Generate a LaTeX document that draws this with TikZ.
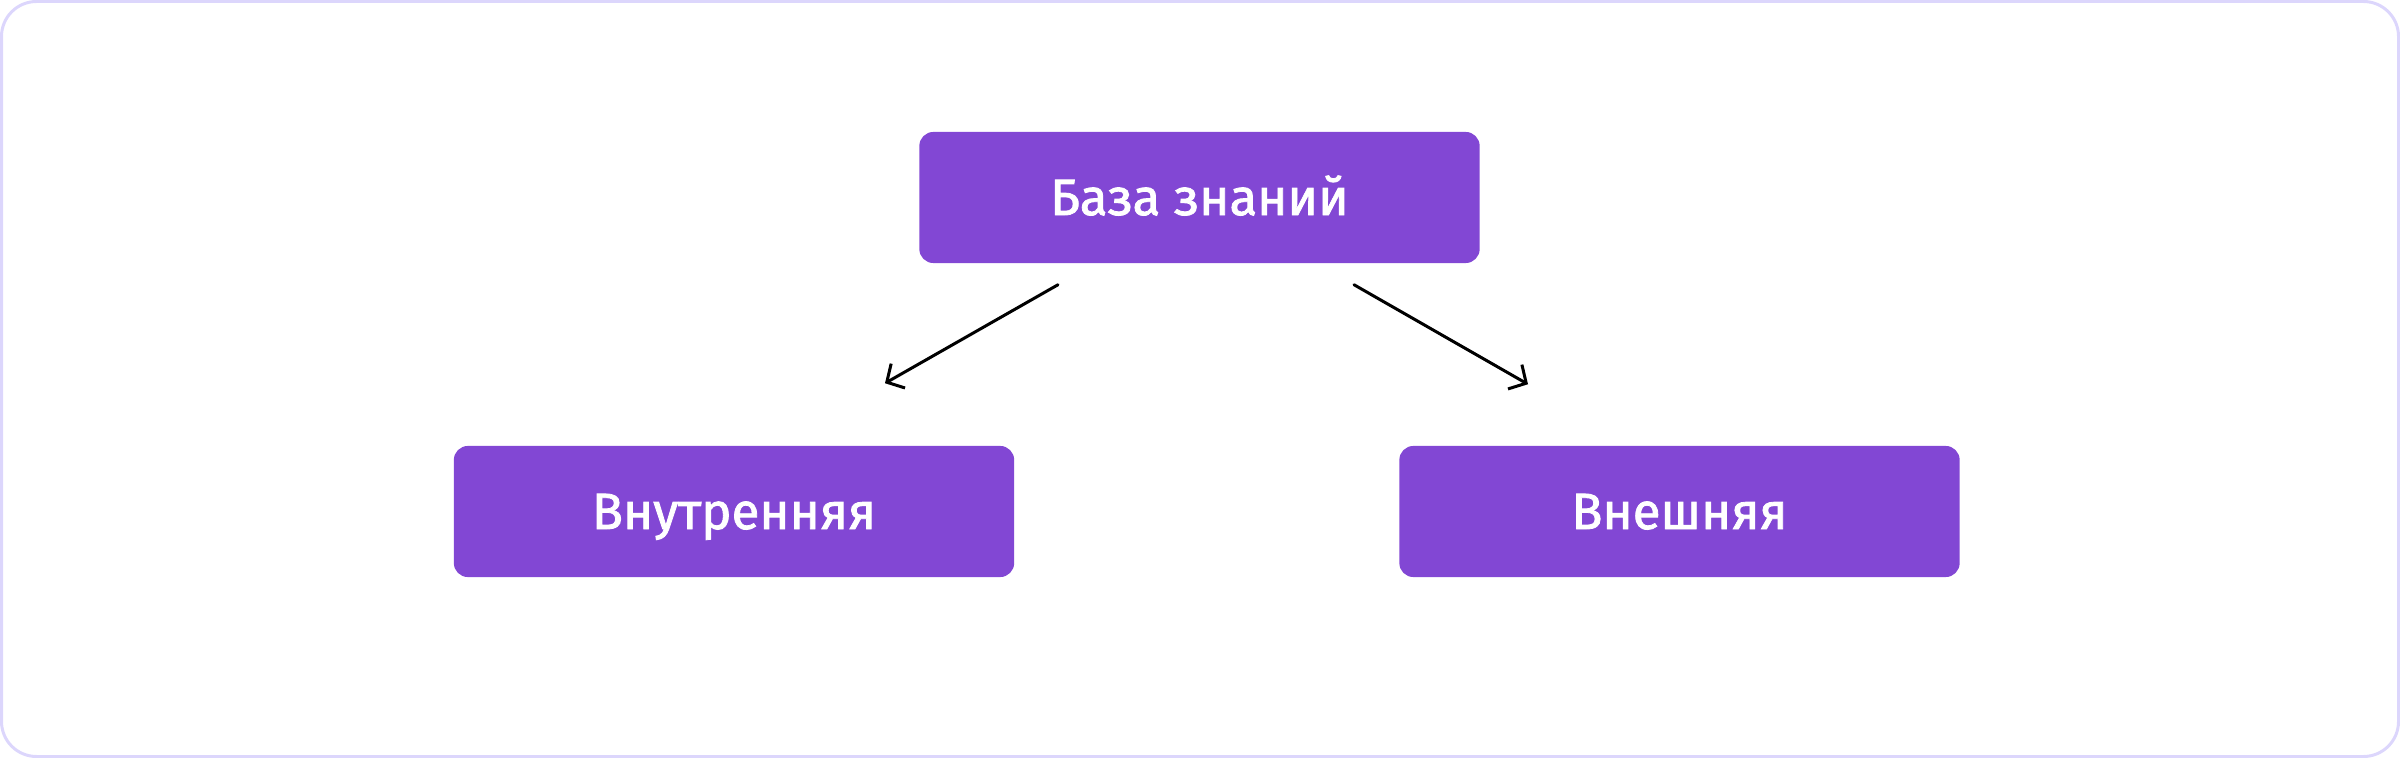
\documentclass[tikz,border=0pt]{standalone}
\usepackage{fontspec}
\setmainfont{Fira Sans}
\usetikzlibrary{arrows.meta, positioning, calc}
\definecolor{kbpurple}{RGB}{130,71,212}
\definecolor{framelav}{RGB}{220,214,252}

\begin{document}
\begin{tikzpicture}[x=0.01cm, y=-0.01cm,
    box/.style={fill=kbpurple, rounded corners=0.14cm, minimum width=5.6cm, minimum height=1.31cm,
        text=white, font=\fontsize{14.5}{16}\selectfont\addfontfeature{FakeBold=1.6}, text height=0.35cm, text depth=0pt},
    link/.style={-{Straight Barb[length=1.3mm, width=2.8mm]}, line width=0.03cm, line cap=round}]
    \useasboundingbox (0,0) rectangle (2400,758);

    % Outer frame
    \draw[framelav, line width=0.03cm, rounded corners=0.35cm] (1.5,1.5) rectangle (2398.5,756.5);

    % Knowledge base
    \node[box] (kb) at (1199.5,197.5) {База знаний};

    % Two kinds
    \node[box] (inner) at (734,511.5) {Внутренняя};
    \node[box] (outer) at (1679.5,511.5) {Внешняя};

    % Arrows down
    \coordinate (kbL) at ($(kb.south)+(-141.5,21)$);
    \coordinate (kbR) at ($(kb.south)+(154.5,21)$);
    \coordinate (inT) at ($(inner.north)+(151,-62)$);
    \coordinate (outT) at ($(outer.north)+(-151.5,-61)$);
    \draw[link] (kbL) -- (inT);
    \draw[link] (kbR) -- (outT);
\end{tikzpicture}
\end{document}
